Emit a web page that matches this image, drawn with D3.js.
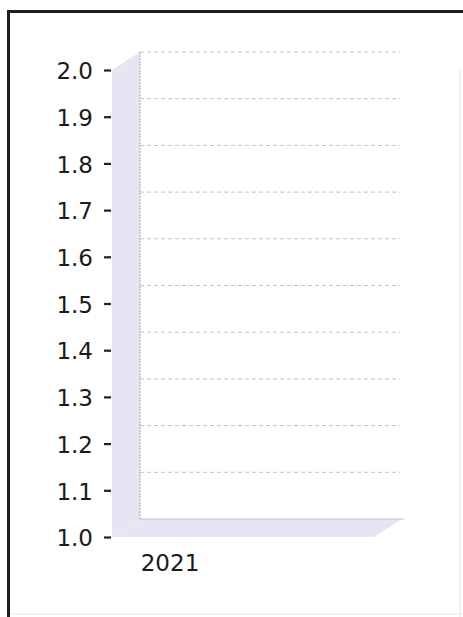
<!DOCTYPE html>
<html>
<head>
<meta charset="utf-8">
<script src="https://cdn.jsdelivr.net/npm/d3@7"></script>
<style>
  body { margin: 0; background: #fff; }
  svg { display: block; }
  .tick text { font-family: "DejaVu Sans", sans-serif; font-size: 23px; fill: #1a1a1a; }
</style>
</head>
<body>
<div id="chart"></div>
<script>
// chart data
var categories = ["2021"];
var seriesValues = [];          // no bars shown in this chart
var yTicks = [1.0, 1.1, 1.2, 1.3, 1.4, 1.5, 1.6, 1.7, 1.8, 1.9, 2.0];
var yDomain = [1.0, 2.0];

var svgWidth = 463;
var svgHeight = 617;

// 3d depth offset of the back wall
var depthX = 28;
var depthY = -18;

var plot = { left: 112, right: 374, top: 70, bottom: 537 };

var svg = d3.select("#chart")
    .append("svg")
    .attr("width", svgWidth)
    .attr("height", svgHeight);

// frame (right and bottom edges fall outside the picture)
svg.append("rect")
    .attr("x", 8.5)
    .attr("y", 11.5)
    .attr("width", 480)
    .attr("height", 640)
    .attr("fill", "none")
    .attr("stroke", "#1e1e1e")
    .attr("stroke-width", 3);

svg.append("line")
    .attr("x1", 460).attr("x2", 460)
    .attr("y1", 70).attr("y2", 617)
    .attr("stroke", "#ececec")
    .attr("stroke-width", 1.5);

svg.append("line")
    .attr("x1", 10).attr("x2", 463)
    .attr("y1", 614).attr("y2", 614)
    .attr("stroke", "#eeeeee")
    .attr("stroke-width", 1.5);

var y = d3.scaleLinear()
    .domain(yDomain)
    .range([plot.bottom, plot.top]);

var x = d3.scaleBand()
    .domain(categories)
    .range([plot.left + depthX, plot.left + depthX + 60]);

var wallFill = "#e5e5f3";

// left side wall
svg.append("path")
    .attr("d", "M" + plot.left + "," + y(yDomain[0]) +
        " L" + plot.left + "," + y(yDomain[1]) +
        " L" + (plot.left + depthX) + "," + (y(yDomain[1]) + depthY) +
        " L" + (plot.left + depthX) + "," + (y(yDomain[0]) + depthY) + " Z")
    .attr("fill", wallFill);

// floor
svg.append("path")
    .attr("d", "M" + plot.left + "," + y(yDomain[0]) +
        " L" + plot.right + "," + y(yDomain[0]) +
        " L" + (plot.right + depthX) + "," + (y(yDomain[0]) + depthY) +
        " L" + (plot.left + depthX) + "," + (y(yDomain[0]) + depthY) + " Z")
    .attr("fill", wallFill);

// back wall gridlines
svg.append("g")
    .selectAll("line")
    .data(yTicks.slice(1))
    .enter()
    .append("line")
    .attr("x1", plot.left + depthX)
    .attr("x2", plot.right + depthX - 2)
    .attr("y1", d => y(d) + depthY)
    .attr("y2", d => y(d) + depthY)
    .attr("stroke", "#c2c2c2")
    .attr("stroke-width", 1)
    .attr("stroke-dasharray", "4,3");

// back edge of floor
svg.append("line")
    .attr("x1", plot.left + depthX)
    .attr("x2", plot.right + depthX + 2)
    .attr("y1", y(yDomain[0]) + depthY)
    .attr("y2", y(yDomain[0]) + depthY)
    .attr("stroke", "#c4c4cc")
    .attr("stroke-width", 1.2);

// corner edge of walls
svg.append("line")
    .attr("x1", plot.left + depthX)
    .attr("x2", plot.left + depthX)
    .attr("y1", y(yDomain[1]) + depthY)
    .attr("y2", y(yDomain[0]) + depthY)
    .attr("stroke", "#a9a9b8")
    .attr("stroke-width", 1)
    .attr("stroke-dasharray", "2,1");

// y axis
var leftAxis = d3.axisLeft(y)
    .tickValues(yTicks)
    .tickFormat(d3.format(".1f"))
    .tickSize(7)
    .tickPadding(11);

var yAxis = svg.append("g")
    .attr("transform", `translate(${plot.left - 1}, 0)`)
    .call(leftAxis);
yAxis.select(".domain").remove();
yAxis.selectAll(".tick line")
    .attr("stroke", "#222")
    .attr("stroke-width", 2.2);
yAxis.selectAll(".tick text").attr("dy", "0.38em");

// category axis
var bottomAxis = d3.axisBottom(x).tickSize(0).tickPadding(18);
var xAxis = svg.append("g")
    .attr("transform", `translate(0, ${plot.bottom})`)
    .call(bottomAxis);
xAxis.select(".domain").remove();

// bars (none in this chart)
svg.append("g")
    .selectAll("rect")
    .data(seriesValues)
    .enter()
    .append("rect")
    .attr("x", (d, i) => x(categories[i]))
    .attr("y", d => y(d))
    .attr("width", x.bandwidth())
    .attr("height", d => y(yDomain[0]) - y(d))
    .attr("fill", "#4f81bd");
</script>
</body>
</html>
